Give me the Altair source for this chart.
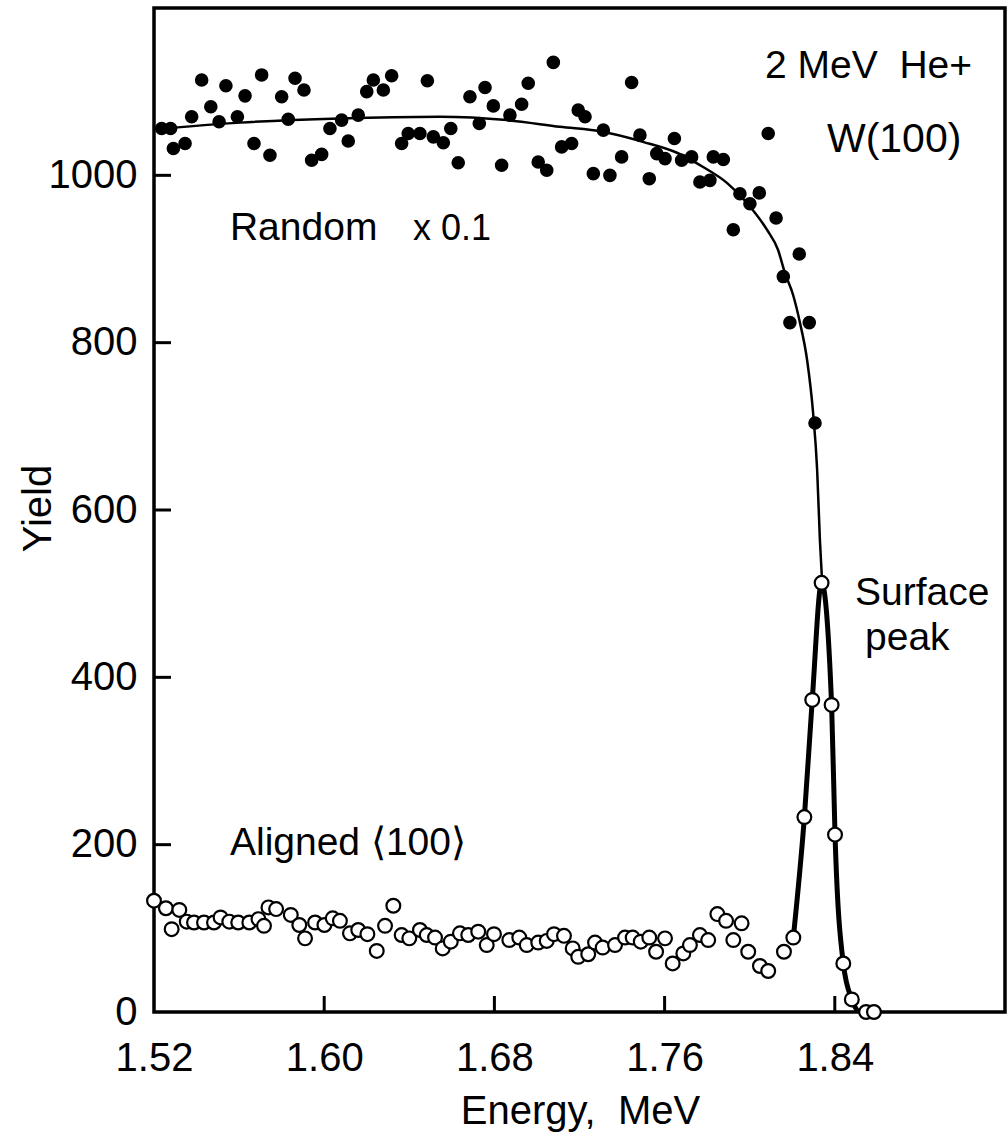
import altair as alt
import pandas as pd

# ---------------- data ----------------
# Random spectrum (x 0.1), filled points
rand_E = [1.5236, 1.5278, 1.5291, 1.5346, 1.5377, 1.5424, 1.5467, 1.5506, 1.5538, 1.5592,
          1.5628, 1.5670, 1.5706, 1.5745, 1.5800, 1.5831, 1.5863, 1.5905, 1.5941, 1.5988,
          1.6027, 1.6082, 1.6113, 1.6160, 1.6200, 1.6231, 1.6278, 1.6317, 1.6364, 1.6395,
          1.6450, 1.6485, 1.6513, 1.6560, 1.6595, 1.6630, 1.6685, 1.6729, 1.6756, 1.6795,
          1.6834, 1.6873, 1.6928, 1.6959, 1.7006, 1.7046, 1.7077, 1.7116, 1.7163, 1.7194,
          1.7226, 1.7265, 1.7312, 1.7343, 1.7398, 1.7445, 1.7484, 1.7528, 1.7563, 1.7602,
          1.7646, 1.7680, 1.7727, 1.7766, 1.7813, 1.7829, 1.7876, 1.7923, 1.7954, 1.8001,
          1.8045, 1.8087, 1.8124, 1.8158, 1.8189, 1.8233, 1.8280, 1.8307]
rand_Y = [1056, 1056, 1032, 1038, 1070, 1114, 1082, 1064, 1107, 1070,
          1095, 1038, 1120, 1024, 1094, 1067, 1116, 1102, 1018, 1025,
          1056, 1066, 1041, 1072, 1100, 1114, 1102, 1119, 1038, 1050,
          1050, 1113, 1046, 1039, 1056, 1015, 1094, 1062, 1105, 1083,
          1012, 1072, 1085, 1110, 1016, 1006, 1135, 1034, 1038, 1078,
          1070, 1002, 1054, 1000, 1022, 1111, 1048, 996, 1026, 1020,
          1044, 1018, 1022, 992, 994, 1022, 1019, 935, 978, 966,
          979, 1050, 949, 879, 824, 906, 824, 704]

# Aligned <100> spectrum, open points
alig_E = [1.5200, 1.5256, 1.5283, 1.5319, 1.5354, 1.5388, 1.5435, 1.5482, 1.5513, 1.5554,
          1.5596, 1.5648, 1.5691, 1.5717, 1.5738, 1.5774, 1.5843, 1.5883, 1.5910, 1.5957,
          1.6001, 1.6040, 1.6074, 1.6121, 1.6160, 1.6203, 1.6247, 1.6286, 1.6325, 1.6364,
          1.6400, 1.6450, 1.6482, 1.6521, 1.6557, 1.6595, 1.6638, 1.6677, 1.6724, 1.6764,
          1.6798, 1.6870, 1.6917, 1.6952, 1.7006, 1.7046, 1.7080, 1.7127, 1.7168, 1.7194,
          1.7241, 1.7273, 1.7309, 1.7367, 1.7414, 1.7450, 1.7488, 1.7528, 1.7560, 1.7602,
          1.7638, 1.7688, 1.7719, 1.7766, 1.7805, 1.7848, 1.7889, 1.7923, 1.7962, 1.7993,
          1.8048, 1.8087, 1.8161, 1.8205, 1.8257, 1.8294, 1.8338, 1.8385, 1.8401, 1.8440,
          1.8480, 1.8547, 1.8584]
alig_Y = [133, 124, 99, 122, 108, 107, 107, 107, 113, 108,
          107, 107, 111, 103, 125, 123, 116, 104, 88, 107,
          104, 112, 109, 94, 98, 93, 73, 103, 127, 92,
          88, 98, 92, 89, 76, 84, 94, 92, 96, 80,
          93, 86, 89, 80, 83, 85, 93, 91, 76, 66,
          69, 83, 77, 80, 89, 89, 84, 89, 72, 88,
          58, 70, 80, 92, 86, 117, 109, 86, 106, 72,
          55, 49, 72, 89, 233, 373, 513, 367, 212, 58,
          15, 0, 0]

# Fitted random curve (thin line)
fit_E = [1.5200, 1.5604, 1.6074, 1.6544, 1.6859, 1.7108, 1.7310, 1.7498, 1.7658, 1.7781,
         1.7893, 1.7987, 1.8081, 1.8133, 1.8166, 1.8204, 1.8237, 1.8270, 1.8298, 1.8317,
         1.8330, 1.8340]
fit_Y = [1055, 1063, 1068, 1070, 1066, 1058, 1052, 1040, 1027, 1010,
         991, 967, 935, 911, 883, 857, 823, 779, 716, 648,
         564, 516]

# Surface peak curve (thick line)
peak_E = [1.8205, 1.8257, 1.8294, 1.8338, 1.8385, 1.8401, 1.8440, 1.8480, 1.8509]
peak_Y = [89, 233, 373, 513, 367, 212, 58, 15, 0]

x_ticks = [1.52, 1.60, 1.68, 1.76, 1.84]
x_inner_ticks = [1.60, 1.68, 1.76, 1.84]
y_ticks = [0, 200, 400, 600, 800, 1000]
y_inner_ticks = [200, 400, 600, 800, 1000]

NB = "\u00a0"
ann_text = ["Random", "x 0.1", "2 MeV" + NB + NB + "He+", "W(100)", "Aligned \u27e8100\u27e9", "Surface", "peak"]
ann_E = [1.5557, 1.6417, 1.8072, 1.8363, 1.5557, 1.8495, 1.8542]
ann_Y = [923, 923, 1116, 1028, 188, 486, 433]
ann_size = [39, 36, 39, 41, 39, 39, 39]

# ---------------- chart ----------------
W, H = 851, 1004
FONT = "Liberation Sans, Arial, sans-serif"

xs = alt.Scale(domain=[1.52, 1.92], nice=False, zero=False)
ys = alt.Scale(domain=[0, 1200], nice=False)

x_axis = alt.Axis(values=x_ticks, format=".2f", ticks=False, tickSize=0, domain=False, grid=False,
                  labelFont=FONT, labelFontSize=40, labelColor="black", labelPadding=58,
                  labelBaseline="alphabetic", labelFlush=False, labelAlign="center",
                  title="Energy," + NB + NB + "MeV", titleFont=FONT, titleFontSize=40,
                  titleFontWeight="normal", titleColor="black", titleX=426, titleY=111,
                  titleBaseline="alphabetic")
y_axis = alt.Axis(values=y_ticks, format="d", ticks=False, tickSize=0, domain=False, grid=False,
                  labelFont=FONT, labelFontSize=40, labelColor="black", labelPadding=17,
                  labelFlush=False,
                  title="Yield", titleFont=FONT, titleFontSize=40, titleFontWeight="normal",
                  titleColor="black", titleX=-104, titleY=500, titleAngle=-90,
                  titleBaseline="alphabetic", titleAlign="center")

df_rand = pd.DataFrame({"E": rand_E, "Y": rand_Y})
df_alig = pd.DataFrame({"E": alig_E, "Y": alig_Y})
df_fit = pd.DataFrame({"E": fit_E, "Y": fit_Y})
df_peak = pd.DataFrame({"E": peak_E, "Y": peak_Y})
df_xt = pd.DataFrame({"E": x_inner_ticks})
df_yt = pd.DataFrame({"Y": y_inner_ticks})
df_ann = pd.DataFrame({"E": ann_E, "Y": ann_Y, "t": ann_text, "s": ann_size})

fit_line = alt.Chart(df_fit).mark_line(color="black", strokeWidth=2.5, interpolate="monotone").encode(
    x=alt.X("E:Q", scale=xs, axis=x_axis),
    y=alt.Y("Y:Q", scale=ys, axis=y_axis),
)
peak_line = alt.Chart(df_peak).mark_line(color="black", strokeWidth=5, interpolate="monotone").encode(
    x=alt.X("E:Q", scale=xs), y=alt.Y("Y:Q", scale=ys))
rand_pts = alt.Chart(df_rand).mark_point(shape="circle", filled=True, color="black", size=185, opacity=1).encode(
    x=alt.X("E:Q", scale=xs), y=alt.Y("Y:Q", scale=ys))
alig_pts = alt.Chart(df_alig).mark_point(shape="circle", filled=True, fill="white", stroke="black",
                                         strokeWidth=2.2, size=190, opacity=1).encode(
    x=alt.X("E:Q", scale=xs), y=alt.Y("Y:Q", scale=ys))
xt = alt.Chart(df_xt).mark_rule(color="black", strokeWidth=3).encode(
    x=alt.X("E:Q", scale=xs), y=alt.value(H - 16), y2=alt.value(H))
yt = alt.Chart(df_yt).mark_rule(color="black", strokeWidth=3).encode(
    y=alt.Y("Y:Q", scale=ys), x=alt.value(0), x2=alt.value(17))
ann = alt.Chart(df_ann).mark_text(align="left", baseline="alphabetic", font=FONT, color="black").encode(
    x=alt.X("E:Q", scale=xs), y=alt.Y("Y:Q", scale=ys), text="t:N", size=alt.Size("s:Q", scale=None))

chart = alt.layer(fit_line, peak_line, rand_pts, alig_pts, xt, yt, ann).properties(
    width=W, height=H,
    padding={"left": 154, "top": 8, "right": 2, "bottom": 123},
    autosize=alt.AutoSizeParams(type="none"),
    background="white",
).configure_view(stroke="black", strokeWidth=3.5)

chart.save("out.html", embed_options={"renderer": "svg", "actions": False})
